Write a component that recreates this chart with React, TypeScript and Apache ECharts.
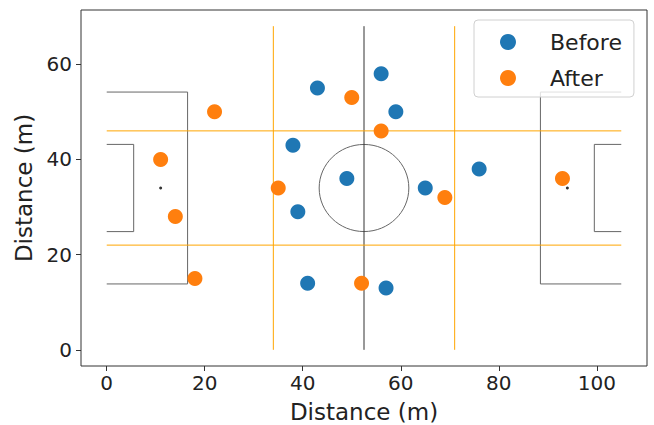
import React, { useEffect, useRef } from 'react';
import * as echarts from 'echarts';

// Player positions (x, y in metres)
const beforePoints = [
  [43, 55], [56, 58], [59, 50], [38, 43], [49, 36],
  [39, 29], [65, 34], [76, 38], [41, 14], [57, 13],
];
const afterPoints = [
  [22, 50], [11, 40], [14, 28], [18, 15], [50, 53],
  [56, 46], [35, 34], [69, 32], [52, 14], [93, 36],
];

const xTicks = [0, 20, 40, 60, 80, 100];
const yTicks = [0, 20, 40, 60];

// Pitch markings
const halfwayLine = [[52.5, 0], [52.5, 68]];
const leftPenaltyBox = [[0, 54.16], [16.5, 54.16], [16.5, 13.84], [0, 13.84]];
const leftSixYardBox = [[0, 43.16], [5.5, 43.16], [5.5, 24.84], [0, 24.84]];
const rightPenaltyBox = [[105, 54.16], [88.5, 54.16], [88.5, 13.84], [105, 13.84]];
const rightSixYardBox = [[105, 43.16], [99.5, 43.16], [99.5, 24.84], [105, 24.84]];
const penaltySpots = [[11, 34], [94, 34]];
const centreCircle = [[52.5, 34, 9.15]];

// Zone lines (orange)
const zoneLineA = [[34, 0], [34, 68]];
const zoneLineB = [[71, 0], [71, 68]];
const zoneLineC = [[0, 46], [105, 46]];
const zoneLineD = [[0, 22], [105, 22]];

const FONT = '"DejaVu Sans", sans-serif';

const lineSeries = (data: number[][], color: string, width: number, z: number) => ({
  type: 'line',
  data,
  symbol: 'none',
  showSymbol: false,
  lineStyle: { color, width },
  silent: true,
  z,
});

export default function App() {
  const ref = useRef<HTMLDivElement>(null);

  useEffect(() => {
    if (!ref.current) return;
    const chart = echarts.init(ref.current, undefined, { renderer: 'svg' });
    const pitchColor = '#666';
    chart.setOption({
      animation: false,
      grid: {
        left: 81,
        right: 7,
        top: 10,
        bottom: 59,
        containLabel: false,
        outerBoundsMode: 'none',
        show: true,
        borderColor: '#333',
        borderWidth: 1,
        backgroundColor: 'transparent',
      },
      legend: {
        data: ['Before', 'After'],
        orient: 'vertical',
        left: 474,
        top: 20,
        padding: [11, 12, 8, 26],
        itemWidth: 16,
        itemHeight: 16,
        itemGap: 14,
        icon: 'circle',
        backgroundColor: 'rgba(255,255,255,0.8)',
        borderColor: '#d0d0d0',
        borderWidth: 1,
        borderRadius: 4,
        textStyle: {
          fontFamily: FONT,
          fontSize: 22,
          lineHeight: 22,
          color: '#222',
          padding: [0, 0, 0, 29],
        },
      },
      xAxis: {
        type: 'value',
        min: -5.25,
        max: 110.25,
        name: 'Distance (m)',
        nameLocation: 'middle',
        nameGap: 34,
        nameTextStyle: { fontFamily: FONT, fontSize: 23, color: '#222' },
        axisLine: { show: false, onZero: false },
        axisTick: {
          show: true,
          inside: false,
          length: 5,
          customValues: xTicks,
          lineStyle: { color: '#333' },
        },
        axisLabel: {
          customValues: xTicks,
          fontFamily: FONT,
          fontSize: 20,
          color: '#222',
          margin: 7,
        },
        splitLine: { show: false },
      },
      yAxis: {
        type: 'value',
        min: -3.4,
        max: 71.4,
        name: 'Distance (m)',
        nameLocation: 'middle',
        nameGap: 41,
        nameRotate: 90,
        nameTextStyle: { fontFamily: FONT, fontSize: 23, color: '#222' },
        axisLine: { show: false, onZero: false },
        axisTick: {
          show: true,
          inside: false,
          length: 5,
          customValues: yTicks,
          lineStyle: { color: '#333' },
        },
        axisLabel: {
          customValues: yTicks,
          fontFamily: FONT,
          fontSize: 20,
          color: '#222',
          margin: 9,
        },
        splitLine: { show: false },
      },
      series: [
        lineSeries(halfwayLine, '#333', 1, 1),
        lineSeries(leftPenaltyBox, pitchColor, 1, 1),
        lineSeries(leftSixYardBox, pitchColor, 1, 1),
        lineSeries(rightPenaltyBox, pitchColor, 1, 1),
        lineSeries(rightSixYardBox, pitchColor, 1, 1),
        {
          type: 'custom',
          data: centreCircle,
          silent: true,
          z: 1,
          encode: { x: 0, y: 1 },
          renderItem: (params: any, api: any) => {
            const c = api.coord([api.value(0), api.value(1)]);
            const s = api.size([api.value(2), api.value(2)]);
            return {
              type: 'ellipse',
              shape: { cx: c[0], cy: c[1], rx: s[0], ry: s[1] },
              style: { fill: 'none', stroke: pitchColor, lineWidth: 1 },
            };
          },
        },
        {
          type: 'scatter',
          data: penaltySpots,
          symbol: 'circle',
          symbolSize: 3,
          itemStyle: { color: '#000' },
          silent: true,
          z: 1,
        },
        lineSeries(zoneLineA, '#ffa500', 1, 2),
        lineSeries(zoneLineB, '#ffa500', 1, 2),
        lineSeries(zoneLineC, '#ffa500', 1, 2),
        lineSeries(zoneLineD, '#ffa500', 1, 2),
        {
          name: 'Before',
          type: 'scatter',
          data: beforePoints,
          symbol: 'circle',
          symbolSize: 15,
          itemStyle: { color: '#1f77b4', opacity: 1 },
          z: 3,
        },
        {
          name: 'After',
          type: 'scatter',
          data: afterPoints,
          symbol: 'circle',
          symbolSize: 15,
          itemStyle: { color: '#ff7f0e', opacity: 1 },
          z: 3,
        },
      ],
    });
    return () => chart.dispose();
  }, []);

  return (
    <div
      ref={ref}
      style={{ position: 'fixed', left: 0, top: 0, width: 654, height: 425, background: '#fff' }}
    />
  );
}
